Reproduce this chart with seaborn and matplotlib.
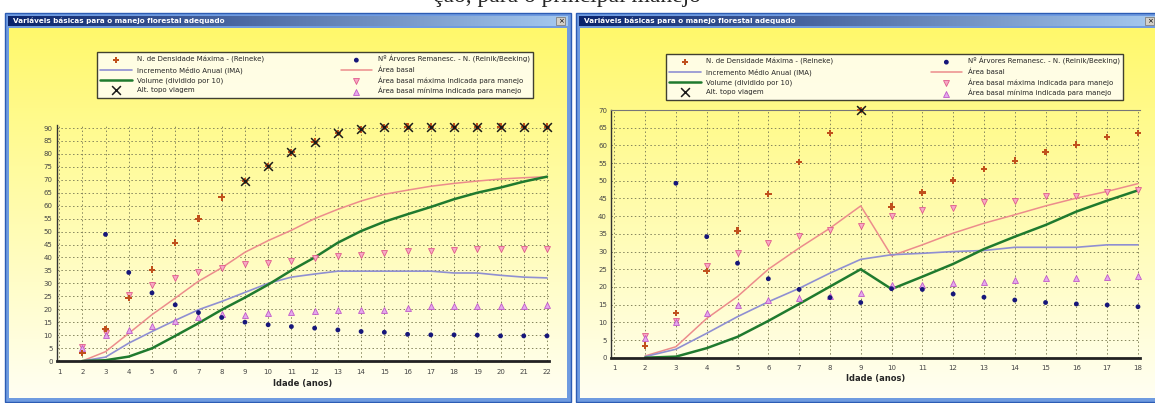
import numpy as np
import pandas as pd
import seaborn as sns
import matplotlib.pyplot as plt
from matplotlib.patches import Rectangle

# ---- data: left window (idade 2..22)
idade_e = list(range(2, 23))
n_max_e = [3.1, 12.4, 24.3, 35.3, 45.7, 55.0, 63.2, 69.6, 75.4, 80.6, 84.7,
           88.0, 89.5, 90.3, 90.5, 90.5, 90.5, 90.5, 90.5, 90.5, 90.5]
n_rem_e = [np.nan, 48.9, 34.2, 26.3, 21.7, 18.7, 16.8, 15.0, 14.0, 13.3, 12.7,
           12.0, 11.4, 11.1, 10.3, 10.1, 10.1, 10.0, 9.7, 9.7, 9.7]
ima_e = [0, 1.5, 6.9, 11.4, 15.7, 19.8, 23.0, 26.5, 30.0, 32.4, 33.6,
         34.7, 34.7, 34.7, 34.7, 34.7, 34.0, 34.0, 33.1, 32.4, 32.1]
ab_e = [0, 3.6, 10.7, 17.9, 24.3, 30.8, 36.0, 42.0, 46.5, 50.5, 55.0,
        58.6, 61.8, 64.4, 66.0, 67.5, 68.6, 69.5, 70.3, 70.8, 71.2]
vol_e = [0, 0.3, 1.7, 4.9, 9.7, 14.6, 19.8, 24.5, 29.5, 35.0, 40.0,
         45.7, 50.2, 53.8, 56.7, 59.5, 62.5, 65.0, 67.0, 69.3, 71.2]
ab_max_e = [5.6, 11.0, 25.6, 29.5, 32.1, 34.4, 36.0, 37.3, 37.9, 38.8, 39.9,
            40.5, 40.9, 41.8, 42.4, 42.4, 42.7, 43.1, 43.1, 43.4, 43.4]
ab_min_e = [5.0, 10.1, 12.0, 13.7, 15.3, 17.0, 18.0, 17.9, 18.5, 18.9, 19.4,
            19.8, 19.8, 19.8, 20.5, 21.1, 21.1, 21.1, 21.1, 21.1, 21.7]
alt_idade_e = list(range(9, 23))
alt_e = [69.6, 75.4, 80.6, 84.7, 88.0, 89.5, 90.3, 90.5, 90.5, 90.5, 90.5,
         90.5, 90.5, 90.5]

# ---- data: right window (idade 2..18)
idade_d = list(range(2, 19))
n_max_d = [3.4, 12.7, 24.5, 35.9, 46.2, 55.3, 63.5, 70.0, 42.7, 46.7, 50.1,
           53.3, 55.7, 58.1, 60.2, 62.4, 63.5]
n_rem_d = [np.nan, 49.3, 34.2, 26.7, 22.3, 19.3, 17.0, 15.6, 19.5, 19.3, 18.0,
           17.1, 16.3, 15.6, 15.2, 14.9, 14.4]
ima_d = [0.3, 2.4, 6.9, 11.6, 15.8, 19.6, 23.9, 27.8, 29.1, 29.5, 30.0,
         30.3, 31.2, 31.2, 31.2, 31.9, 31.9]
ab_d = [0.5, 3.1, 11.1, 17.3, 25.0, 31.0, 36.6, 42.9, 28.8, 31.9, 35.2,
        38.0, 40.4, 42.9, 45.1, 47.0, 49.2]
vol_d = [0, 0.3, 2.7, 5.9, 10.4, 15.2, 20.1, 25.0, 19.4, 22.9, 26.5,
         30.7, 34.2, 37.5, 41.3, 44.4, 47.3]
ab_max_d = [6.1, 10.5, 25.9, 29.7, 32.5, 34.4, 36.1, 37.3, 40.1, 41.8, 42.3,
            43.9, 44.4, 45.6, 45.8, 46.7, 47.5]
ab_min_d = [5.5, 10.2, 12.7, 14.9, 16.3, 17.0, 17.3, 18.4, 20.5, 20.6, 21.0,
            21.5, 22.0, 22.5, 22.6, 22.9, 23.2]
alt_idade_d = [9]
alt_d = [70.0]

titulo = 'Variáveis básicas para o manejo florestal adequado'
lab_nmax = 'N. de Densidade Máxima - (Reineke)'
lab_nrem = 'Nº Árvores Remanesc. - N. (Reinik/Beeking)'
lab_ima = 'Incremento Médio Anual (IMA)'
lab_ab = 'Área basal'
lab_vol = 'Volume (dividido por 10)'
lab_abmax = 'Área basal máxima indicada para manejo'
lab_alt = 'Alt. topo viagem'
lab_abmin = 'Área basal mínima indicada para manejo'
ordem = [lab_nmax, lab_ima, lab_vol, lab_alt, lab_nrem, lab_ab, lab_abmax, lab_abmin]

sns.set_theme(style='white')
plt.rcParams['font.family'] = ['DejaVu Sans']

fig = plt.figure(figsize=(11.55, 4.03), dpi=100)
fig.patch.set_facecolor('white')

# background canvas in pixel coordinates
bg = fig.add_axes([0, 0, 1, 1], zorder=0)
bg.set_xlim(0, 1155)
bg.set_ylim(403, 0)
bg.axis('off')

grad_v = np.linspace(0, 1, 200)[:, None]
top_c = np.array([1.0, 0.975, 0.42])
bot_c = np.array([1.0, 1.0, 0.95])
img_v = (top_c[None, None, :] * (1 - grad_v[..., None]) +
         bot_c[None, None, :] * grad_v[..., None])
grad_h = np.linspace(0, 1, 200)[None, :]
tb_l = np.array([0.04, 0.14, 0.42])
tb_r = np.array([0.65, 0.79, 0.94])
img_h = (tb_l[None, None, :] * (1 - grad_h[..., None]) +
         tb_r[None, None, :] * grad_h[..., None])


def janela(x0, x1, y0=13, y1=402):
    bg.add_patch(Rectangle((x0, y0), x1 - x0, y1 - y0, fc='#6f9be0',
                           ec='#2c5cb4', lw=1.0))
    bg.imshow(img_v, extent=(x0 + 4, x1 - 4, y1 - 4, y0 + 15),
              origin='upper', aspect='auto', zorder=1)
    bg.imshow(img_h, extent=(x0 + 3, x1 - 3, y0 + 13, y0 + 3),
              origin='upper', aspect='auto', zorder=1)
    bg.text(x0 + 8, y0 + 8, titulo, color='white', fontsize=5.2,
            fontweight='bold', va='center', ha='left', zorder=2)
    bg.add_patch(Rectangle((x1 - 15, y0 + 4), 9, 8, fc='#d4d0c8',
                           ec='#808080', lw=0.6, zorder=2))
    bg.text(x1 - 10.5, y0 + 8, '×', fontsize=5, va='center', ha='center',
            color='black', zorder=3)


janela(5, 571)
janela(576, 1160)

# bottom of a text line from the page above (only descenders show)
fig.text(433 / 1155, 1 - 2 / 403, 'ção, para o principal manejo',
         family='Liberation Serif', fontsize=17, va='baseline', ha='left')

cor_nmax = '#c0501c'
cor_nrem = '#16167a'
cor_ima = '#8f8fd2'
cor_ab = '#ec8c8c'
cor_vol = '#1f7a2e'


def painel(ax, idade, n_max, n_rem, ima, ab, vol, ab_max, ab_min, alt_x, alt_y,
           xpad):
    sns.lineplot(x=idade, y=ab, color=cor_ab, lw=1.1, label=lab_ab, ax=ax)
    sns.lineplot(x=idade, y=ima, color=cor_ima, lw=1.2, label=lab_ima, ax=ax)
    sns.lineplot(x=idade, y=vol, color=cor_vol, lw=1.8, label=lab_vol, ax=ax)
    sns.scatterplot(x=idade, y=ab_max, marker='v', s=18, color='#f7a8c4',
                    edgecolor='#e05a8c', linewidth=0.6, label=lab_abmax,
                    ax=ax, clip_on=False, zorder=3)
    sns.scatterplot(x=idade, y=ab_min, marker='^', s=18, color='#e4a8ec',
                    edgecolor='#c058c8', linewidth=0.6, label=lab_abmin,
                    ax=ax, clip_on=False, zorder=3)
    sns.scatterplot(x=idade, y=n_rem, marker='o', s=12, color=cor_nrem,
                    edgecolor='none', label=lab_nrem, ax=ax, clip_on=False,
                    zorder=4)
    sns.scatterplot(x=idade, y=n_max, marker='P', s=22, color=cor_nmax,
                    edgecolor='none', label=lab_nmax, ax=ax, clip_on=False,
                    zorder=4)
    sns.scatterplot(x=alt_x, y=alt_y, marker='x', s=40, color='#1a1a1a',
                    linewidth=1.1, label=lab_alt, ax=ax, clip_on=False,
                    zorder=5)
    ax.patch.set_alpha(0)
    ax.grid(True, ls=(0, (1.5, 2.5)), lw=0.7, color='#85855c')
    ax.set_axisbelow(True)
    for s in ['top', 'right']:
        ax.spines[s].set_visible(False)
    ax.spines['left'].set_color('#333333')
    ax.spines['left'].set_linewidth(1.0)
    ax.spines['bottom'].set_color('#222222')
    ax.spines['bottom'].set_linewidth(2.0)
    ax.tick_params(axis='y', labelsize=5, colors='#444444', length=0, pad=3)
    ax.tick_params(axis='x', labelsize=5, colors='#444444', length=0, pad=xpad)
    ax.set_xlabel('Idade (anos)', fontsize=6, fontweight='bold', labelpad=2.5)
    ax.set_ylabel('')
    h, l = ax.get_legend_handles_labels()
    d = dict(zip(l, h))
    ax.get_legend().remove()
    return [d[k] for k in ordem]


ax1 = fig.add_axes([0.0491, 0.1042, 0.4265, 0.5846], zorder=2)
hand = painel(ax1, idade_e, n_max_e, n_rem_e, ima_e, ab_e, vol_e,
              ab_max_e, ab_min_e, alt_idade_e, alt_e, 6)
ax1.set_xlim(0.9, 22.1)
ax1.set_ylim(0, 91)
ax1.set_xticks(range(1, 23))
ax1.set_yticks(range(0, 95, 5))

ax2 = fig.add_axes([0.5292, 0.1124, 0.4574, 0.6146], zorder=2)
painel(ax2, idade_d, n_max_d, n_rem_d, ima_d, ab_d, vol_d,
       ab_max_d, ab_min_d, alt_idade_d, alt_d, 5)
ax2.set_xlim(0.9, 18.05)
ax2.set_ylim(0, 70)
ax2.set_xticks(range(1, 19))
ax2.set_yticks(range(0, 75, 5))
ax2.spines['top'].set_visible(True)
ax2.spines['top'].set_color('#777777')
ax2.spines['top'].set_linewidth(0.8)

for bbox in [(97 / 1155, 1 - 102 / 403, 436 / 1155, 50 / 403),
             (666 / 1155, 1 - 99 / 403, 457 / 1155, 45 / 403)]:
    leg = fig.legend(hand, ordem, ncol=2, loc='upper left', bbox_to_anchor=bbox,
                     bbox_transform=fig.transFigure, mode='expand', fontsize=5,
                     frameon=True, fancybox=False, edgecolor='#111111',
                     borderaxespad=0, handlelength=4.5, labelspacing=0.45,
                     borderpad=0.5, scatterpoints=1, shadow=False)
    leg.get_frame().set_linewidth(1.0)
    leg.get_frame().set_facecolor('white')
    leg.set_zorder(5)

fig.savefig('out.png', dpi=100)
